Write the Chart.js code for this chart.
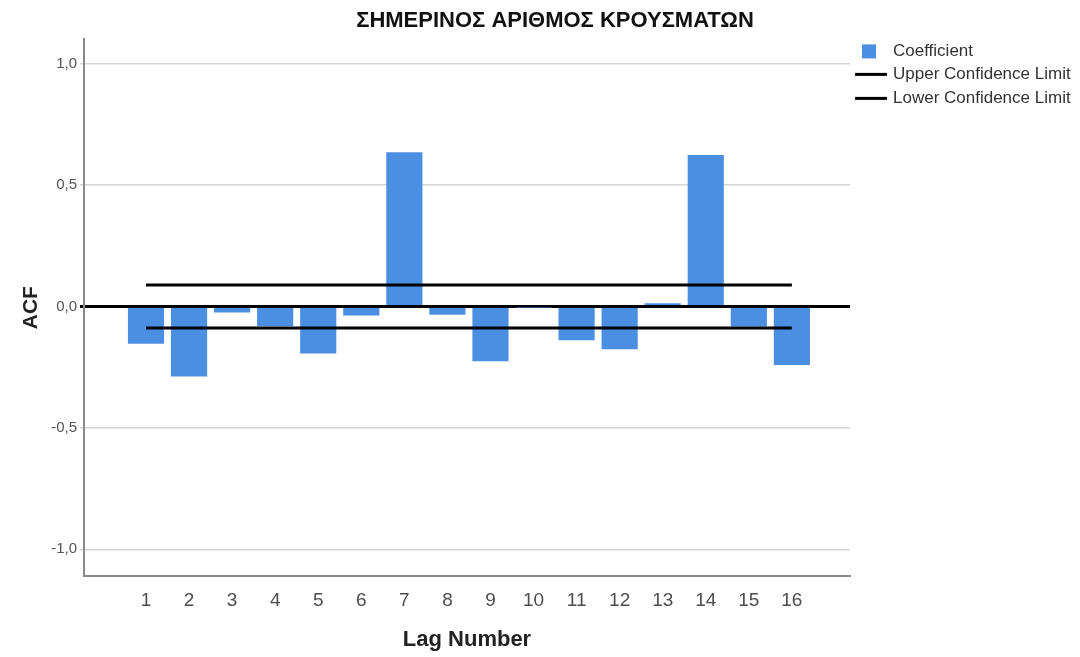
<!DOCTYPE html>
<html>
<head>
<meta charset="utf-8">
<script src="https://cdn.jsdelivr.net/npm/chart.js@4.4.0/dist/chart.umd.min.js"></script>
<style>
  html, body { margin: 0; padding: 0; background: #fff; }
  #wrap { width: 1080px; height: 657px; }
</style>
</head>
<body>
<div id="wrap"><canvas id="acf-chart"></canvas></div>
<script>
const lags = [1, 2, 3, 4, 5, 6, 7, 8, 9, 10, 11, 12, 13, 14, 15, 16];
const coefficient = [-0.153, -0.288, -0.025, -0.081, -0.194, -0.037, 0.635, -0.034,
  -0.226, -0.004, -0.139, -0.176, 0.013, 0.624, -0.082, -0.241];
const upperLimit = [0.089, 0.089, 0.089, 0.089, 0.089, 0.089, 0.089, 0.089,
  0.089, 0.089, 0.089, 0.089, 0.089, 0.089, 0.089, 0.089];
const lowerLimit = [-0.089, -0.089, -0.089, -0.089, -0.089, -0.089, -0.089, -0.089,
  -0.089, -0.089, -0.089, -0.089, -0.089, -0.089, -0.089, -0.089];
const yTicks = [-1, -0.5, 0, 0.5, 1];
const seriesNames = ["Coefficient", "Upper Confidence Limit", "Lower Confidence Limit"];

const toPoints = (values) => lags.map((lag, i) => ({ x: lag, y: values[i] }));

// legend drawn by hand at the right, SPSS style
const sideLegend = {
  id: "sideLegend",
  afterDraw(chart) {
    const { ctx, chartArea } = chart;
    const x0 = chartArea.right;
    const rows = [chartArea.top + 12, chartArea.top + 35, chartArea.top + 59];
    ctx.save();
    chart.data.datasets.forEach((ds, i) => {
      const y = rows[i];
      if (ds.type === "bar") {
        ctx.fillStyle = ds.backgroundColor;
        ctx.fillRect(x0 + 12, y - 7, 14, 14);
      } else {
        ctx.strokeStyle = ds.borderColor;
        ctx.lineWidth = 3;
        ctx.beginPath();
        ctx.moveTo(x0 + 5, y);
        ctx.lineTo(x0 + 37, y);
        ctx.stroke();
      }
      ctx.fillStyle = "#333";
      ctx.font = "17px 'Liberation Sans', Arial, sans-serif";
      ctx.textBaseline = "middle";
      ctx.textAlign = "left";
      ctx.fillText(ds.label, x0 + 43, y);
    });
    ctx.restore();
  },
};

const fmt = (v) => v.toFixed(1).replace(".", ",");

new Chart(document.getElementById("acf-chart"), {
  data: {
    datasets: [
      {
        type: "bar",
        label: seriesNames[0],
        data: toPoints(coefficient),
        backgroundColor: "#4a8fe2",
        borderWidth: 0,
        barPercentage: 0.84,
        categoryPercentage: 1,
        order: 2,
      },
      {
        type: "line",
        label: seriesNames[1],
        data: toPoints(upperLimit),
        borderColor: "#000",
        borderWidth: 3,
        pointRadius: 0,
        order: 1,
      },
      {
        type: "line",
        label: seriesNames[2],
        data: toPoints(lowerLimit),
        borderColor: "#000",
        borderWidth: 3,
        pointRadius: 0,
        order: 1,
      },
    ],
  },
  options: {
    responsive: true,
    maintainAspectRatio: false,
    animation: false,
    layout: { padding: { left: 30, right: 0, top: 0, bottom: 0 } },
    plugins: {
      legend: { display: false },
      tooltip: { enabled: false },
      title: {
        display: true,
        text: "ΣΗΜΕΡΙΝΟΣ ΑΡΙΘΜΟΣ ΚΡΟΥΣΜΑΤΩΝ",
        color: "#111",
        font: { family: "'Liberation Sans', Arial, sans-serif", size: 22, weight: "bold" },
        padding: { top: 8, bottom: 5 },
      },
    },
    scales: {
      x: {
        type: "linear",
        offset: false,
        min: -0.44,
        max: 17.35,
        afterBuildTicks: (scale) => {
          scale.ticks = lags.map((v) => ({ value: v }));
        },
        afterFit: (scale) => {
          scale.height = 81;
        },
        grid: { display: false, drawTicks: false },
        border: { display: true, color: "#8a8a8a", width: 2 },
        ticks: {
          color: "#4d4d4d",
          font: { family: "'Liberation Sans', Arial, sans-serif", size: 19 },
          padding: 13,
          maxRotation: 0,
          autoSkip: false,
        },
        title: {
          display: true,
          text: "Lag Number",
          color: "#222",
          font: { family: "'Liberation Sans', Arial, sans-serif", size: 22, weight: "bold" },
          padding: { top: 0, bottom: 4 },
        },
      },
      y: {
        type: "linear",
        min: -1.11,
        max: 1.1,
        afterBuildTicks: (scale) => {
          scale.ticks = yTicks.map((v) => ({ value: v }));
        },
        afterFit: (scale) => {
          scale.width = 54;
        },
        grid: {
          color: (c) => (c.tick && c.tick.value === 0 ? "#000" : "#d4d4d4"),
          lineWidth: (c) => (c.tick && c.tick.value === 0 ? 3 : 1.5),
          tickLength: 4,
        },
        border: { display: true, color: "#8a8a8a", width: 2 },
        ticks: {
          color: "#555",
          font: { family: "'Liberation Sans', Arial, sans-serif", size: 15 },
          padding: 3,
          callback: (v) => fmt(v),
        },
        title: {
          display: true,
          text: "ACF",
          color: "#222",
          font: { family: "'Liberation Sans', Arial, sans-serif", size: 21, weight: "bold" },
          padding: { top: -11, bottom: 0 },
        },
      },
      side: {
        type: "linear",
        position: "right",
        display: true,
        afterFit: (scale) => {
          scale.width = 230;
        },
        grid: { display: false, drawTicks: false },
        border: { display: false },
        ticks: { display: false },
      },
    },
  },
  plugins: [sideLegend],
});
</script>
</body>
</html>
